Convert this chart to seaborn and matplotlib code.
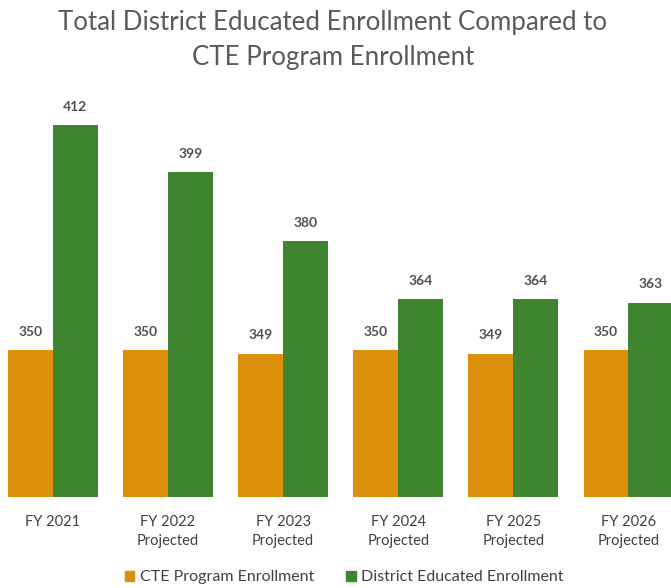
import matplotlib
matplotlib.use("Agg")
import matplotlib.pyplot as plt
import seaborn as sns
import pandas as pd

years = ["FY 2021", "FY 2022\nProjected", "FY 2023\nProjected",
         "FY 2024\nProjected", "FY 2025\nProjected", "FY 2026\nProjected"]
cte_enrollment = [350, 350, 349, 350, 349, 350]
district_enrollment = [412, 399, 380, 364, 364, 363]
series_names = ["CTE Program Enrollment", "District Educated Enrollment"]
colors = ["#DB8F0A", "#3F8530"]

df = pd.DataFrame({
    "year": years * 2,
    "enrollment": cte_enrollment + district_enrollment,
    "series": [series_names[0]] * len(years) + [series_names[1]] * len(years),
})

sns.set_theme(style="white")
plt.rcParams["font.family"] = ["Lato", "DejaVu Sans"]

fig = plt.figure(figsize=(6.71, 5.88), dpi=100)
ax = fig.add_axes([0.0, 0.1548, 1.0, 0.675])

sns.barplot(data=df, x="year", y="enrollment", hue="series",
            palette=colors, width=0.78, saturation=1, ax=ax,
            errorbar=None, legend=False, linewidth=0, edgecolor="none")

for cont in ax.containers:
    ax.bar_label(cont, fmt="%d", padding=9, fontsize=10, fontweight="bold",
                 color="#505050", clip_on=False)

ax.set_ylim(309.5, 418.9)
ax.set_xlim(-0.46, 5.37)
ax.set_xlabel("")
ax.set_ylabel("")
ax.set_yticks([])
ax.tick_params(axis="x", length=0, pad=13, labelsize=10.5, labelcolor="#404040")
for lbl in ax.get_xticklabels():
    lbl.set_linespacing(1.45)
for s in ax.spines.values():
    s.set_visible(False)

fig.suptitle("Total District Educated Enrollment Compared to\nCTE Program Enrollment",
             x=0.496, y=0.983, fontsize=18.6, color="#5A5A5A", linespacing=1.5)

handles = [plt.Rectangle((0, 0), 1, 1, color=c) for c in colors]
fig.legend(handles, series_names, loc="lower center", bbox_to_anchor=(0.513, -0.018),
           ncol=2, frameon=False, fontsize=11.5, handlelength=0.6, handleheight=0.6,
           handletextpad=0.35, columnspacing=2.0, labelcolor="#404040")

fig.savefig("out.png", dpi=100)
